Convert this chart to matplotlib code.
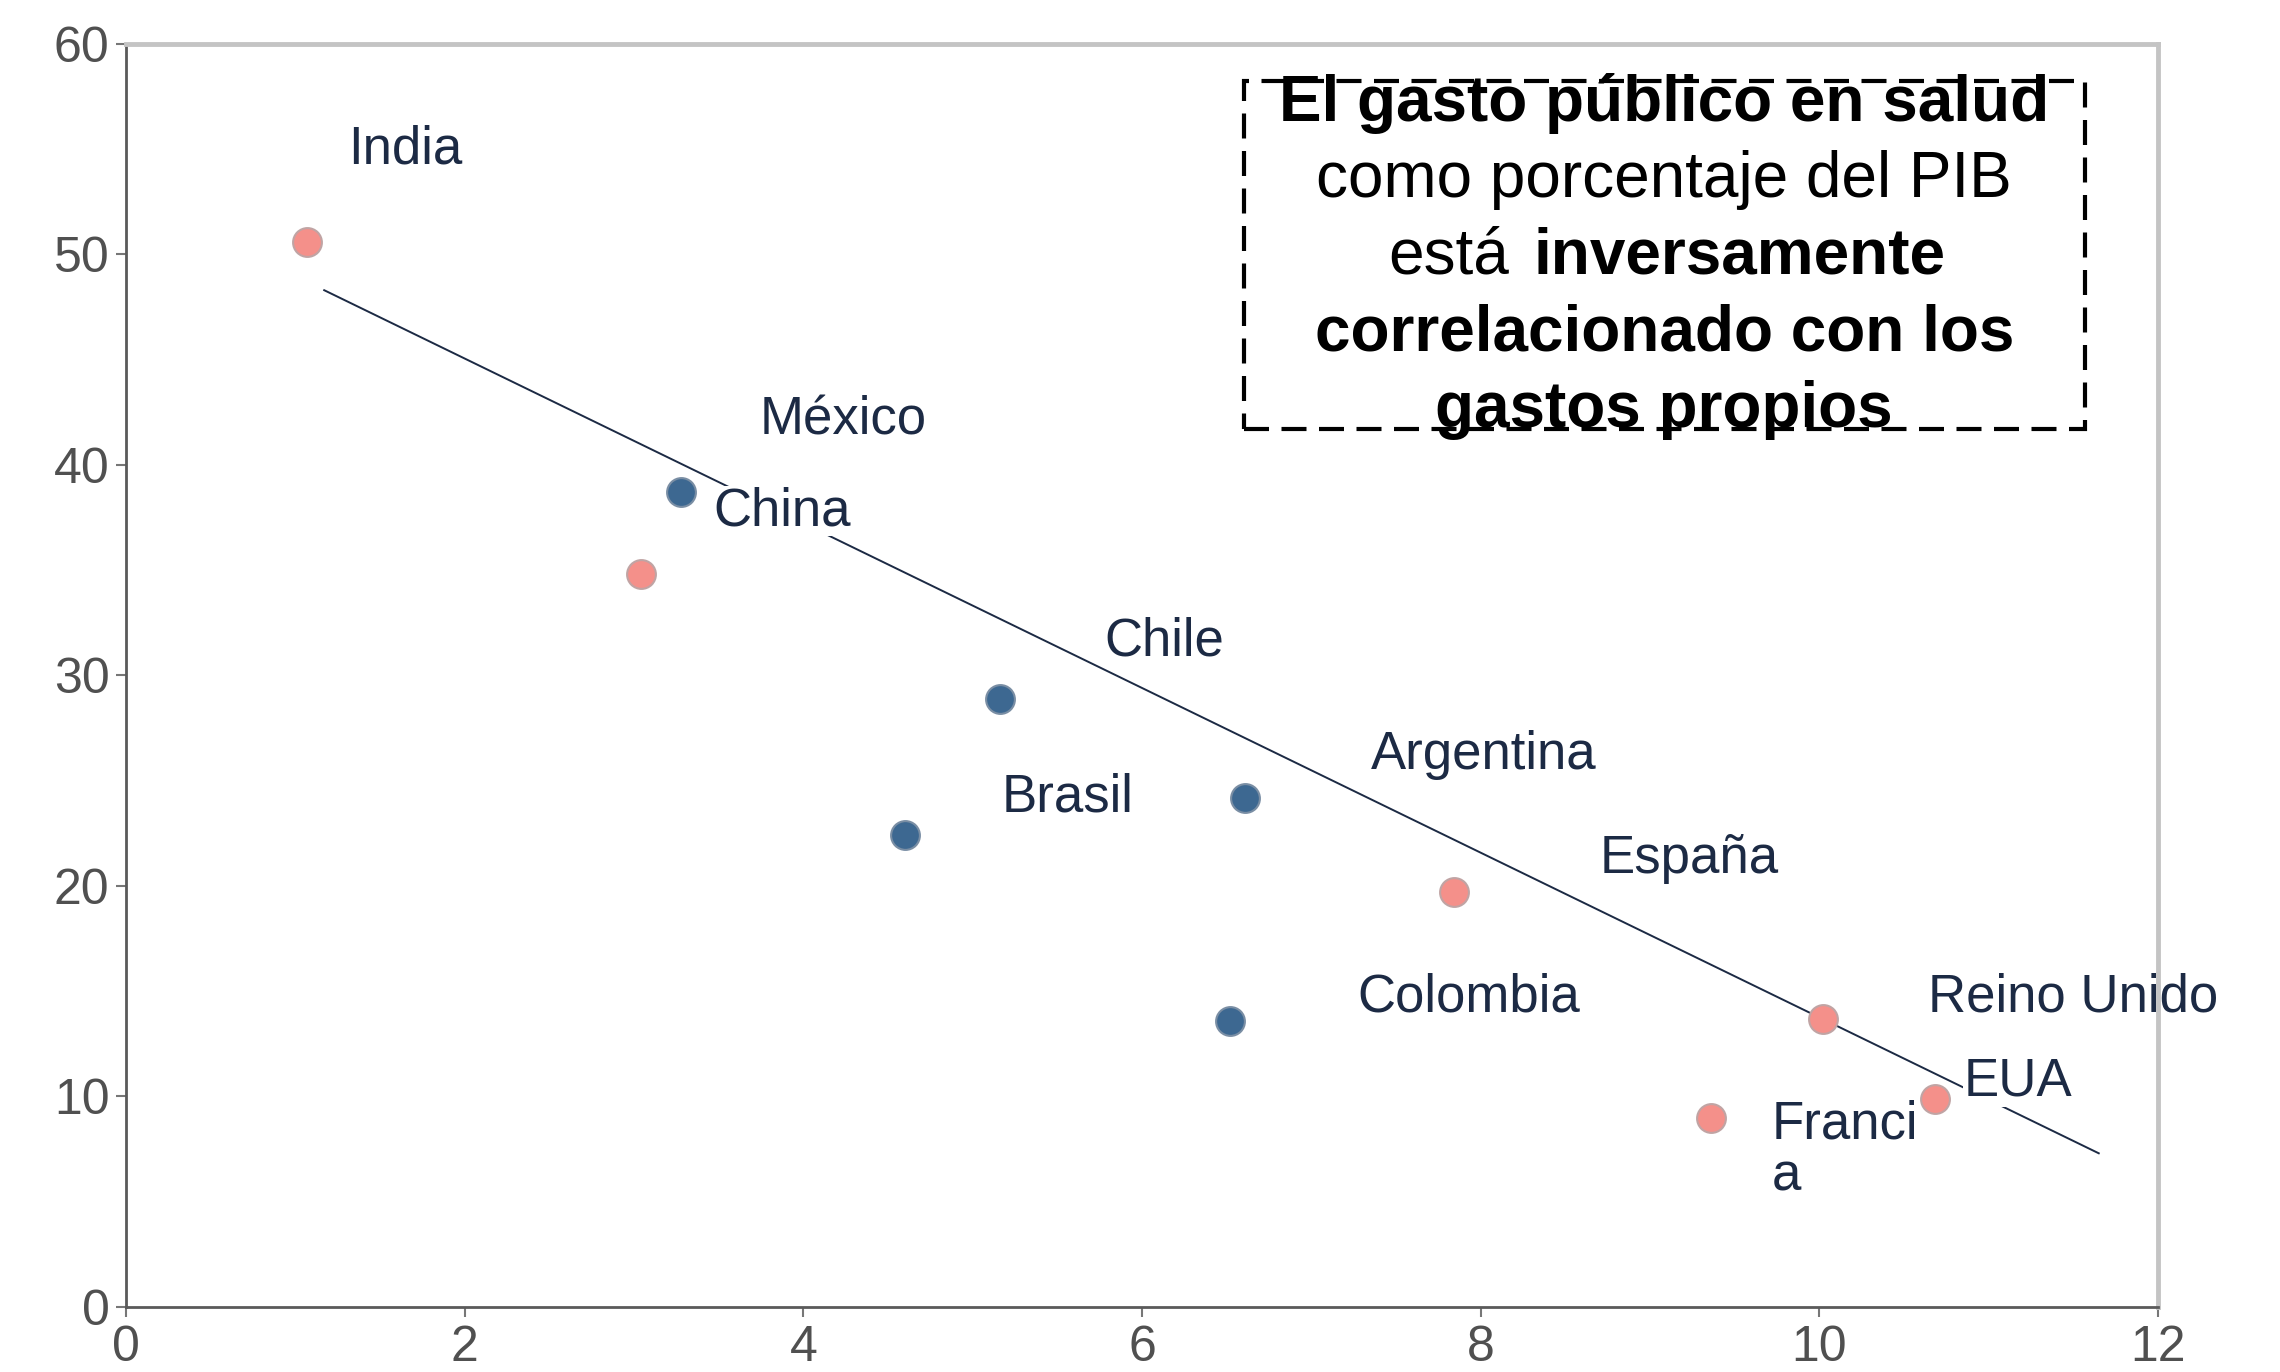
import matplotlib.pyplot as plt
from matplotlib.patches import Rectangle
from matplotlib import font_manager

# datos (x = gasto público en salud % PIB, y = gasto de bolsillo %)
pink_x = [1.07, 3.04, 7.84, 9.36, 10.02, 10.68]
pink_y = [50.6, 34.8, 19.7, 9.0, 13.7, 9.9]
blue_x = [3.28, 5.16, 4.60, 6.61, 6.52]
blue_y = [38.7, 28.9, 22.4, 24.2, 13.6]

trend_x = [1.17, 11.65]
trend_y = [48.3, 7.3]

labels = ['India', 'México', 'China', 'Chile', 'Brasil', 'Argentina',
          'España', 'Colombia', 'Reino Unido', 'EUA', 'Franci\na']
label_x = [1.31, 3.74, 3.47, 5.78, 5.17, 7.35, 8.70, 7.27, 10.64, 10.85, 9.72]
label_y = [55.0, 42.1, 37.8, 31.6, 24.2, 26.2, 21.3, 14.7, 14.7, 10.7, 7.45]

x_ticks = [0, 2, 4, 6, 8, 10, 12]
y_ticks = [0, 10, 20, 30, 40, 50, 60]

installed = {f.name for f in font_manager.fontManager.ttflist}
fam = 'Liberation Sans' if 'Liberation Sans' in installed else 'DejaVu Sans'
plt.rcParams['font.family'] = [fam, 'DejaVu Sans']

fig = plt.figure(figsize=(22.8, 13.72), dpi=100)
ax = fig.add_axes([0.0553, 0.0474, 0.8912, 0.9206])

ax.plot(trend_x, trend_y, color='#1c2a44', lw=1.4, zorder=1)
ax.scatter(pink_x, pink_y, s=430, color='#f4908a', edgecolor='#c0a4a4', lw=1.5, zorder=2.2)
ax.scatter(blue_x, blue_y, s=430, color='#3d6891', edgecolor='#7a8ea4', lw=1.5, zorder=2.2)

for lab, lx, ly in zip(labels, label_x, label_y):
    ax.text(lx, ly, lab, fontsize=38, color='#1c2a44', ha='left', va='center',
            linespacing=1.05, zorder=2, clip_on=False,
            bbox=dict(facecolor='white', edgecolor='none', pad=0))

ax.set_xlim(0, 12)
ax.set_ylim(0, 60)
ax.set_xticks(x_ticks)
ax.set_yticks(y_ticks)
ax.tick_params(axis='both', labelsize=36, labelcolor='#505050', color='#777777',
               length=7, width=1.5)
ax.tick_params(axis='x', pad=6)
ax.tick_params(axis='y', pad=5)

for side in ['left', 'bottom']:
    ax.spines[side].set_color('#5a5a5a')
    ax.spines[side].set_linewidth(2)
for side in ['top', 'right']:
    ax.spines[side].set_color('#c4c4c4')
    ax.spines[side].set_linewidth(3.5)

# recuadro de anotación
box = Rectangle((0.550, 0.695), 0.414, 0.276, transform=ax.transAxes,
                fill=False, edgecolor='black', lw=3, linestyle=(0, (6, 3)), zorder=3)
ax.add_patch(box)

lines = [
    ('El gasto público en salud', 'bold'),
    ('como porcentaje del PIB', 'normal'),
    (None, None),
    ('correlacionado con los', 'bold'),
    ('gastos propios', 'bold'),
]
line_y = [0.953, 0.892, 0.832, 0.771, 0.710]
cx = 0.757
for (txt, w), yy in zip(lines, line_y):
    if txt is None:
        # "está" normal + "inversamente" bold en la misma línea
        ax.text(0.6805, yy, 'está', fontsize=46, fontweight='normal',
                ha='right', va='center', transform=ax.transAxes, zorder=4)
        ax.text(0.6925, yy, 'inversamente', fontsize=46, fontweight='bold',
                ha='left', va='center', transform=ax.transAxes, zorder=4)
        continue
    ax.text(cx, yy, txt, fontsize=46, fontweight=w, color='black',
            ha='center', va='center', transform=ax.transAxes, zorder=4)

fig.savefig('out.png', dpi=100)
